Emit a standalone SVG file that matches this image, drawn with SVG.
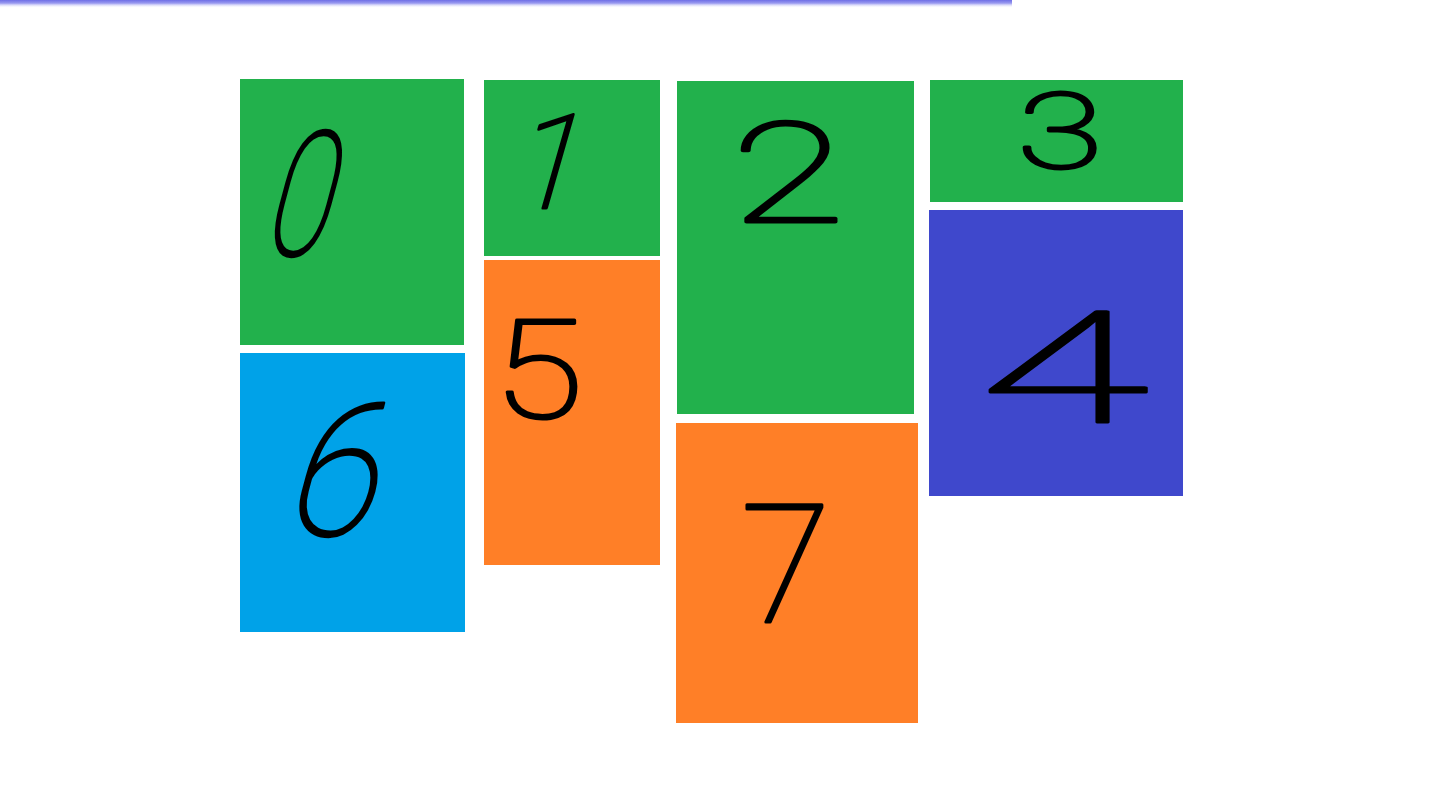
<svg xmlns="http://www.w3.org/2000/svg" width="1436" height="788" viewBox="0 0 1436 788">
<defs>
<linearGradient id="bar" x1="0" y1="0" x2="0" y2="1">
<stop offset="0" stop-color="#6f6fe6"/>
<stop offset="0.4" stop-color="#9a9af0"/>
<stop offset="1" stop-color="#ffffff" stop-opacity="0"/>
</linearGradient>
<style>
.g{fill:#22b14c}.o{fill:#ff7f27}.b{fill:#00a2e8}.i{fill:#3f48cc}
.d{font-family:Roboto,"Liberation Sans",sans-serif;font-weight:100;fill:#000;stroke:#000;stroke-width:3;stroke-linejoin:round;text-anchor:middle}
</style>
</defs>
<rect width="1436" height="788" fill="#fff"/>
<rect x="0" y="0" width="1012" height="8" fill="url(#bar)"/>
<g id="node0"><rect class="g" x="240" y="79" width="224" height="266"/><text class="d" font-size="173" transform="translate(292,255) skewX(-15) scale(0.68,1)">0</text></g>
<g id="node1"><rect class="g" x="484" y="80" width="176" height="176"/><text class="d" font-size="131" transform="translate(540,208) skewX(-16)">1</text></g>
<g id="node2"><rect class="g" x="677" y="81" width="237" height="333"/><text class="d" font-size="139" transform="translate(788,222) scale(1.5,1)">2</text></g>
<g id="node3"><rect class="g" x="930" y="80" width="253" height="122"/><text class="d" font-size="105" transform="translate(1060,168) scale(1.5,1)">3</text></g>
<g id="node4"><rect class="i" x="929" y="210" width="254" height="286"/><text class="d" font-size="155" transform="translate(1064,422) scale(2,1)">4</text></g>
<g id="node5"><rect class="o" x="484" y="260" width="176" height="305"/><text class="d" font-size="138" transform="translate(538,418) scale(1.2,1)">5</text></g>
<g id="node6"><rect class="b" x="240" y="353" width="225" height="279"/><text class="d" font-size="183" transform="translate(326,535) skewX(-15) scale(0.9,1)">6</text></g>
<g id="node7"><rect class="o" x="676" y="423" width="242" height="300"/><text class="d" font-size="165" transform="translate(786,622)">7</text></g>
<g id="connectors"/>
</svg>
